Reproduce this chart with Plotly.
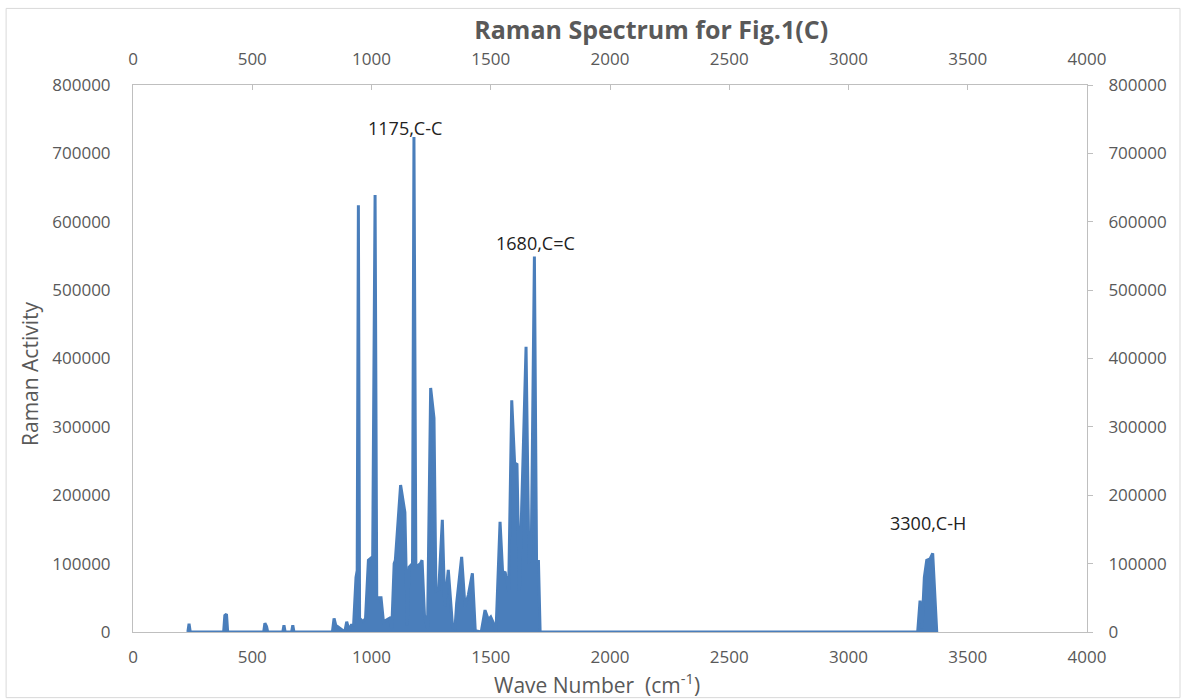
import plotly.graph_objects as go

# Raman spectrum (wave number in cm^-1, Raman activity)
wavenumber = [
    225, 230, 235, 240,
    380, 385, 392, 397,
    548, 553, 560, 565,
    628, 633, 638,
    665, 670, 675,
    836, 843, 850, 860, 868, 880, 888, 896, 905, 915,
    925, 935, 940, 945, 950, 965, 975, 987, 1005, 1015, 1022,
    1040, 1050, 1075, 1085, 1095, 1100, 1122, 1140, 1150,
    1158, 1172, 1178, 1186, 1205, 1212, 1222, 1235,
    1248, 1262, 1270, 1282, 1297, 1307, 1322, 1340, 1350,
    1357, 1378, 1392, 1406, 1423, 1435, 1460,
    1476, 1490, 1500, 1510, 1522,
    1539, 1550, 1560, 1575, 1588, 1600, 1610, 1620,
    1636, 1648, 1660, 1670, 1683, 1692, 1700, 1707,
    3290, 3300, 3308, 3318, 3328, 3342, 3353, 3363, 3370,
]
activity = [
    0, 0, 12000, 0,
    0, 24000, 26000, 0,
    0, 13000, 8000, 0,
    0, 10000, 0,
    0, 10000, 0,
    0, 20000, 10000, 7000, 6000, 2000, 0, 15000, 3000, 10000,
    10000, 80000, 90000, 624000, 20000, 15000, 20000, 105000, 110000, 639000, 50000,
    50000, 15000, 20000, 5000, 100000, 105000, 215000, 175000, 10000,
    95000, 100000, 724000, 95000, 100000, 105000, 25000, 5000,
    357000, 313000, 60000, 62000, 164000, 38000, 91000, 7000, 5000,
    42000, 110000, 37000, 54000, 86000, 2000, 0,
    32000, 18000, 22000, 14000, 0,
    161000, 85000, 88000, 60000, 339000, 247000, 245000, 60000,
    262000, 417000, 100000, 120000, 549000, 103000, 103000, 0,
    0, 46000, 5000, 80000, 105000, 107000, 115000, 57000, 0,
]

peak_labels = ["1175,C-C", "1680,C=C", "3300,C-H"]
peak_label_x = [1140, 1686, 3333]
peak_label_y = [737000, 569000, 159000]

x_ticks = list(range(0, 4001, 500))
y_ticks = list(range(0, 800001, 100000))

BLUE = "#4A7EBB"
GREY = "#595959"
LINE = "#BFBFBF"
FONT = "'Open Sans', Lato, sans-serif"

fig = go.Figure()
fig.add_trace(go.Scatter(
    x=wavenumber, y=activity, mode="lines",
    line=dict(color=BLUE, width=3), fill="tozeroy", fillcolor=BLUE,
    showlegend=False,
))
fig.add_trace(go.Scatter(
    x=wavenumber, y=activity, xaxis="x2", yaxis="y2", mode="lines",
    line=dict(color="rgba(0,0,0,0)", width=0), hoverinfo="skip", showlegend=False,
))

for t, xv, yv in zip(peak_labels, peak_label_x, peak_label_y):
    fig.add_annotation(x=xv, y=yv, text=t, showarrow=False,
                       font=dict(family=FONT, size=18, color="#222222"))

# axis titles (placed as paper annotations)
fig.add_annotation(text="Raman Activity", xref="paper", yref="paper",
                   x=(30 - 133) / 954, y=(632 - 374) / 547, textangle=-90,
                   showarrow=False, xanchor="center", yanchor="middle",
                   font=dict(family=FONT, size=21, color=GREY))
fig.add_annotation(text="Wave Number  (cm<sup>-1</sup>)", xref="paper", yref="paper",
                   x=(597 - 133) / 954, y=(632 - 683) / 547,
                   showarrow=False, xanchor="center", yanchor="middle",
                   font=dict(family=FONT, size=21, color=GREY))

tickfont = dict(family=FONT, size=17, color=GREY)
fig.update_layout(
    width=1184, height=700,
    margin=dict(l=133, r=97, t=85, b=68),
    paper_bgcolor="white", plot_bgcolor="white",
    title=dict(text="<b>Raman Spectrum for Fig.1(C)</b>", x=0.55, xanchor="center",
               y=1 - 30 / 700, yanchor="middle",
               font=dict(family=FONT, size=25, color=GREY)),
    xaxis=dict(range=[0, 4000], tickvals=x_ticks, showgrid=False, zeroline=False,
               showline=True, linecolor=LINE, linewidth=1, ticks="",
               tickfont=tickfont, ticklabelstandoff=10),
    xaxis2=dict(range=[0, 4000], tickvals=x_ticks, overlaying="x", side="top",
                showgrid=False, zeroline=False, showline=True, linecolor=LINE,
                ticks="inside", ticklen=5, tickcolor=LINE, tickfont=tickfont,
                ticklabelstandoff=12),
    yaxis=dict(range=[0, 800000], tickvals=y_ticks, tickformat="d", showgrid=False,
               zeroline=False, showline=True, linecolor=LINE, ticks="",
               tickfont=tickfont, ticklabelstandoff=18),
    yaxis2=dict(range=[0, 800000], tickvals=y_ticks, tickformat="d", overlaying="y",
                side="right", showgrid=False, zeroline=False, showline=True,
                linecolor=LINE, ticks="outside", ticklen=5, tickcolor=LINE,
                tickfont=tickfont, ticklabelstandoff=12),
)

fig.add_shape(type="rect", xref="paper", yref="paper",
              x0=-0.133, x1=1.0975, y0=-0.12, y1=1.14,
              line=dict(color="#D9D9D9", width=1), fillcolor="rgba(0,0,0,0)")

fig.write_html("out.html")
